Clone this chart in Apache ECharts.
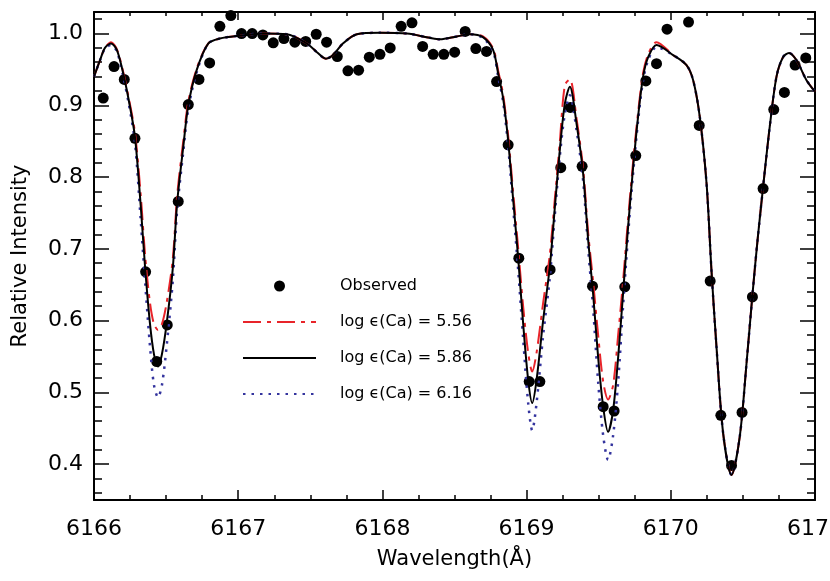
<!DOCTYPE html>
<html>
<head>
<meta charset="utf-8">
<script src="https://cdn.jsdelivr.net/npm/echarts@6/dist/echarts.min.js"></script>
<style>html,body{margin:0;padding:0;background:#fff;}#c{width:830px;height:581px;}</style>
</head>
<body>
<div id="c"></div>
<script>
// Observed spectrum
var obsX = [6166.064,6166.139,6166.210,6166.284,6166.358,6166.435,6166.508,6166.584,6166.654,6166.728,
  6166.802,6166.873,6166.949,6167.023,6167.097,6167.171,6167.243,6167.317,6167.393,6167.468,
  6167.541,6167.613,6167.687,6167.761,6167.835,6167.909,6167.983,6168.054,6168.130,6168.205,
  6168.279,6168.352,6168.426,6168.501,6168.574,6168.648,6168.722,6168.792,6168.872,6168.946,
  6169.018,6169.092,6169.163,6169.237,6169.303,6169.385,6169.457,6169.531,6169.607,6169.681,
  6169.757,6169.827,6169.901,6169.974,6170.049,6170.123,6170.197,6170.273,6170.347,6170.421,
  6170.494,6170.566,6170.640,6170.714,6170.788,6170.862,6170.936,6171.005];
var obsY = [0.910,0.954,0.936,0.854,0.668,0.543,0.594,0.766,0.901,0.936,
  0.959,1.010,1.025,1.000,1.000,0.998,0.987,0.993,0.988,0.989,
  0.999,0.988,0.968,0.948,0.949,0.967,0.971,0.980,1.010,1.015,
  0.982,0.971,0.971,0.974,1.003,0.979,0.975,0.933,0.845,0.687,
  0.515,0.515,0.671,0.813,0.897,0.815,0.648,0.480,0.474,0.647,
  0.830,0.934,0.958,1.006,1.034,1.016,0.872,0.655,0.468,0.398,
  0.472,0.633,0.784,0.894,0.918,0.956,0.966,0.967];

// Synthetic spectra (wavelength grid shared by the three models)
var synX = [6166.000,6166.042,6166.076,6166.118,6166.159,6166.203,6166.243,6166.284,6166.324,6166.354,
  6166.388,6166.416,6166.444,6166.471,6166.504,6166.546,6166.577,6166.619,6166.654,6166.712,
  6166.792,6166.873,6167.012,6167.172,6167.338,6167.477,6167.546,6167.608,6167.657,6167.726,
  6167.823,6167.983,6168.170,6168.329,6168.399,6168.516,6168.607,6168.697,6168.768,6168.803,
  6168.837,6168.872,6168.907,6168.941,6168.976,6169.011,6169.039,6169.069,6169.115,6169.161,
  6169.196,6169.230,6169.265,6169.300,6169.346,6169.392,6169.427,6169.461,6169.496,6169.531,
  6169.565,6169.600,6169.635,6169.669,6169.704,6169.739,6169.773,6169.808,6169.843,6169.901,
  6170.016,6170.109,6170.155,6170.201,6170.248,6170.282,6170.317,6170.363,6170.421,6170.478,
  6170.525,6170.568,6170.603,6170.640,6170.686,6170.733,6170.778,6170.820,6170.871,6170.941,
  6171.000];
var syn556 = [0.940,0.963,0.980,0.988,0.978,0.946,0.908,0.862,0.775,0.692,
  0.625,0.595,0.587,0.595,0.625,0.685,0.775,0.850,0.905,0.951,
  0.986,0.993,0.997,1.000,0.999,0.986,0.974,0.965,0.970,0.986,
  0.999,1.001,1.000,0.994,0.992,0.996,0.999,0.996,0.979,0.948,
  0.915,0.858,0.778,0.702,0.620,0.555,0.529,0.555,0.625,0.692,
  0.770,0.848,0.928,0.936,0.882,0.812,0.722,0.655,0.580,0.515,
  0.490,0.510,0.580,0.655,0.742,0.822,0.890,0.945,0.971,0.988,
  0.970,0.956,0.935,0.884,0.791,0.670,0.563,0.443,0.385,0.438,
  0.540,0.640,0.715,0.786,0.870,0.940,0.967,0.973,0.963,0.935,
  0.919];
var syn586 = [0.940,0.963,0.980,0.986,0.977,0.944,0.905,0.856,0.760,0.675,
  0.596,0.553,0.536,0.553,0.596,0.672,0.765,0.842,0.900,0.949,
  0.986,0.993,0.997,1.000,0.999,0.986,0.974,0.965,0.970,0.986,
  0.999,1.001,1.000,0.994,0.992,0.996,0.999,0.995,0.977,0.944,
  0.910,0.851,0.768,0.689,0.596,0.517,0.485,0.517,0.601,0.675,
  0.758,0.837,0.902,0.926,0.875,0.805,0.712,0.638,0.549,0.480,
  0.445,0.475,0.549,0.638,0.731,0.814,0.884,0.940,0.967,0.984,
  0.970,0.956,0.935,0.884,0.791,0.670,0.563,0.443,0.385,0.438,
  0.540,0.640,0.715,0.786,0.870,0.940,0.967,0.973,0.963,0.935,
  0.919];
var syn616 = [0.940,0.963,0.979,0.984,0.975,0.940,0.900,0.848,0.740,0.655,
  0.565,0.510,0.493,0.510,0.565,0.655,0.755,0.835,0.895,0.946,
  0.986,0.993,0.997,1.000,0.999,0.986,0.974,0.965,0.970,0.986,
  0.999,1.001,1.000,0.994,0.992,0.996,0.999,0.994,0.975,0.940,
  0.905,0.843,0.757,0.672,0.575,0.485,0.447,0.485,0.580,0.660,
  0.748,0.828,0.888,0.914,0.866,0.795,0.700,0.618,0.515,0.440,
  0.406,0.440,0.515,0.620,0.720,0.806,0.878,0.935,0.963,0.981,
  0.970,0.956,0.935,0.884,0.791,0.670,0.563,0.443,0.385,0.438,
  0.540,0.640,0.715,0.786,0.870,0.940,0.967,0.973,0.963,0.935,
  0.919];

// Axis ticks
var yMajorTicks = [0.4,0.5,0.6,0.7,0.8,0.9,1.0];
var yMinorTicks = [0.36,0.38,0.42,0.44,0.46,0.48,0.52,0.54,0.56,0.58,0.62,0.64,0.66,0.68,
  0.72,0.74,0.76,0.78,0.82,0.84,0.86,0.88,0.92,0.94,0.96,0.98,1.02];
var seriesNames = ['Observed','log \u03f5(Ca) = 5.56','log \u03f5(Ca) = 5.86','log \u03f5(Ca) = 6.16'];

function zip(xs, ys){ var out=[]; for (var i=0;i<xs.length;i++) out.push([xs[i], ys[i]]); return out; }

var FONT = 'DejaVu Sans';
var chart = echarts.init(document.getElementById('c'), null, {renderer:'canvas'});

function xAx(pos, labels){
  return {
    type:'value', position:pos, min:6166, max:6171, interval:1,
    axisLine:{show:true, onZero:false, lineStyle:{color:'#000', width:2}},
    axisTick:{show:true, inside:true, length: pos==='bottom'?10:8, lineStyle:{color:'#000', width:1.5}},
    minorTick:{show:true, splitNumber:4, length: pos==='bottom'?5:4, lineStyle:{color:'#000', width:1.5}},
    splitLine:{show:false},
    axisLabel:{show:labels, color:'#000', fontSize:22, fontFamily:FONT, margin:18,
      alignMinLabel:'center', alignMaxLabel:'center',
      formatter:function(v){ return String(Math.round(v)); }},
    name: labels ? 'Wavelength(\u00c5)' : '',
    nameLocation:'middle', nameGap:49,
    nameTextStyle:{color:'#000', fontSize:21, fontFamily:FONT}
  };
}
function yAx(pos, major, labels){
  return {
    type:'value', position:pos, min:0.35, max:1.03,
    axisLine:{show:major, onZero:false, lineStyle:{color:'#000', width:2}},
    axisTick:{show:true, inside:true, length: major?15:8, customValues: major?yMajorTicks:yMinorTicks,
      lineStyle:{color:'#000', width:1.5}},
    splitLine:{show:false},
    axisLabel:{show:labels, customValues: yMajorTicks, color:'#000', fontSize:22, fontFamily:FONT, margin:11,
      formatter:function(v){ return v.toFixed(1); }},
    name: labels ? 'Relative Intensity' : '',
    nameLocation:'middle', nameGap:63,
    nameTextStyle:{color:'#000', fontSize:21, fontFamily:FONT}
  };
}

var hideSym = {opacity:0};
chart.setOption({
  backgroundColor:'#fff',
  animation:false,
  grid:{left:94, top:12, width:721, height:488, containLabel:false, outerBoundsMode:'none'},
  xAxis:[xAx('bottom', true), xAx('top', false)],
  yAxis:[yAx('left', true, true), yAx('left', false, false), yAx('right', true, false), yAx('right', false, false)],
  legend:{
    orient:'vertical', left:237, top:272, itemWidth:73, itemHeight:11, itemGap:18,
    data:[
      {name:seriesNames[0]},
      {name:seriesNames[1], itemStyle:hideSym},
      {name:seriesNames[2], itemStyle:hideSym},
      {name:seriesNames[3], itemStyle:hideSym}
    ],
    textStyle:{color:'#000', fontSize:16, fontFamily:FONT, lineHeight:11, padding:[0,0,7,19]}
  },
  series:[
    {name:seriesNames[0], type:'scatter', data:zip(obsX, obsY), symbol:'circle', symbolSize:11,
      itemStyle:{color:'#000', opacity:1}, z:1, clip:true},
    {name:seriesNames[1], type:'line', data:zip(synX, syn556), showSymbol:false, symbol:'none', smooth:0.3,
      lineStyle:{color:'#e8242a', width:2, type:[18,6,4,6]}, itemStyle:{color:'#e8242a'}, z:2, clip:true},
    {name:seriesNames[3], type:'line', data:zip(synX, syn616), showSymbol:false, symbol:'none', smooth:0.3,
      lineStyle:{color:'#34349e', width:2.5, type:[2.5,6], cap:'butt'}, itemStyle:{color:'#34349e'}, z:3, clip:true},
    {name:seriesNames[2], type:'line', data:zip(synX, syn586), showSymbol:false, symbol:'none', smooth:0.3,
      lineStyle:{color:'#000', width:2}, itemStyle:{color:'#000'}, z:4, clip:true}
  ]
});
</script>
</body>
</html>
